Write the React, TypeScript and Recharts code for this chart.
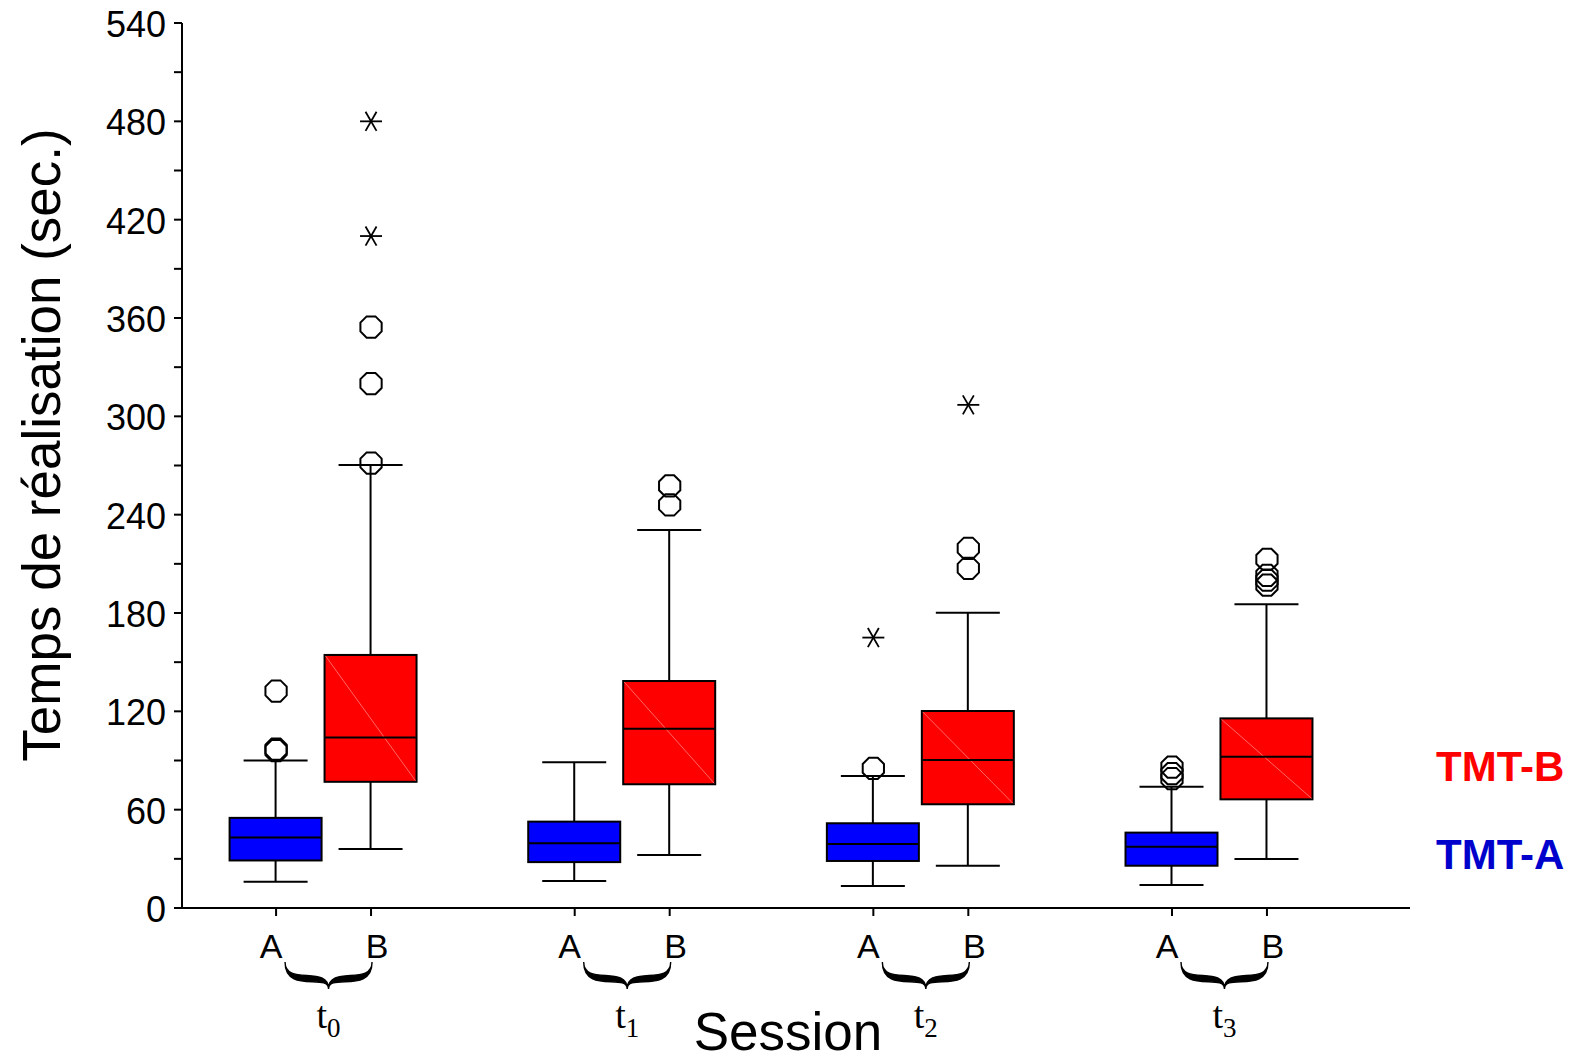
import React from "react";
import { ComposedChart, Bar, Scatter, XAxis, YAxis } from "recharts";

const SESSIONS = ["0", "1", "2", "3"];

// [lower whisker, Q1, median, Q3, upper whisker] for each session
const TMT_A = [
  [16, 29, 43, 55, 90],
  [16.5, 28, 39.5, 52.7, 89],
  [13.5, 28.7, 39, 51.7, 80.5],
  [14, 25.8, 37.4, 46, 74],
];
const TMT_B = [
  [36, 77, 104, 154.4, 270.3],
  [32.3, 75.5, 109.4, 138.5, 230.6],
  [25.8, 63.3, 90.3, 120.2, 180.2],
  [29.9, 66.3, 92.3, 115.7, 185.4],
];

// circles = outliers, stars = extreme values
const OUTLIERS_A = [[96, 97, 132.4], [], [85.2], [79, 82, 86]];
const OUTLIERS_B = [[271.5, 320, 354.5], [245.9, 257.6], [207.3, 219.5], [197, 200, 203, 212.7]];
const EXTREMES_A = [[], [], [165], []];
const EXTREMES_B = [[410, 480], [], [307], []];

const Y_TICKS = [0, 30, 60, 90, 120, 150, 180, 210, 240, 270, 300, 330, 360, 390, 420, 450, 480, 510, 540];

const OFFSET = 0.159;
const FONT = "'Liberation Sans', Arial, Helvetica, sans-serif";

const boxRows = SESSIONS.flatMap((_, i) => [
  { x: i - OFFSET, test: "A", stats: TMT_A[i], range: [TMT_A[i][0], TMT_A[i][4]] },
  { x: i + OFFSET, test: "B", stats: TMT_B[i], range: [TMT_B[i][0], TMT_B[i][4]] },
]);

const toPoints = (a: number[][], b: number[][]) =>
  SESSIONS.flatMap((_, i) => [
    ...a[i].map((y) => ({ x: i - OFFSET, y })),
    ...b[i].map((y) => ({ x: i + OFFSET, y })),
  ]);

const circleRows = toPoints(OUTLIERS_A, OUTLIERS_B);
const starRows = toPoints(EXTREMES_A, EXTREMES_B);
const X_TICKS = boxRows.map((r) => r.x);
const X_DOMAIN = [-0.474, 3.638];

function BoxShape(props: any) {
  const { x, y, width, height } = props;
  const row = props.payload ?? props;
  const [lo, q1, med, q3, hi] = row.stats;
  const k = height / (hi - lo);
  const py = (v: number) => y + (hi - v) * k;
  const cx = x + width / 2;
  const cap = 32;
  const isB = row.test === "B";
  return (
    <g>
      <line x1={cx} x2={cx} y1={py(hi)} y2={py(q3)} stroke="#000" strokeWidth={2} />
      <line x1={cx} x2={cx} y1={py(q1)} y2={py(lo)} stroke="#000" strokeWidth={2} />
      <line x1={cx - cap} x2={cx + cap} y1={py(hi)} y2={py(hi)} stroke="#000" strokeWidth={2} />
      <line x1={cx - cap} x2={cx + cap} y1={py(lo)} y2={py(lo)} stroke="#000" strokeWidth={2} />
      <rect
        x={x}
        y={py(q3)}
        width={width}
        height={py(q1) - py(q3)}
        fill={isB ? "#ff0000" : "#0000ff"}
        stroke="#000"
        strokeWidth={2}
      />
      {isB && (
        <line x1={x + 1} y1={py(q3) + 1} x2={x + width - 1} y2={py(q1) - 1} stroke="#ff8080" strokeWidth={0.8} />
      )}
      <line x1={x} x2={x + width} y1={py(med)} y2={py(med)} stroke="#000" strokeWidth={2} />
    </g>
  );
}

function Octagon(props: any) {
  const { cx, cy } = props;
  const r = 11.5;
  const pts = Array.from({ length: 8 }, (_, i) => {
    const a = (Math.PI / 4) * i + Math.PI / 8;
    return `${cx + r * Math.cos(a)},${cy + r * Math.sin(a)}`;
  }).join(" ");
  return <polygon points={pts} fill="none" stroke="#000" strokeWidth={2} />;
}

function Star(props: any) {
  const { cx, cy } = props;
  const r = 11;
  return (
    <g stroke="#000" strokeWidth={1.8}>
      {[0, 60, 120].map((deg) => {
        const a = (deg * Math.PI) / 180;
        return (
          <line
            key={deg}
            x1={cx - r * Math.cos(a)}
            y1={cy - r * Math.sin(a)}
            x2={cx + r * Math.cos(a)}
            y2={cy + r * Math.sin(a)}
          />
        );
      })}
    </g>
  );
}

function YTick(props: any) {
  const { x, y, payload } = props;
  if (payload.value % 60 !== 0) return <g />;
  return (
    <text x={x} y={y} dy={14} textAnchor="end" fontSize={36} fontFamily={FONT} fill="#000">
      {payload.value}
    </text>
  );
}

function TestTick(props: any) {
  const { x, y, payload } = props;
  const idx = X_TICKS.findIndex((v) => Math.abs(v - payload.value) < 1e-6);
  const isA = idx % 2 === 0;
  return (
    <text x={x + (isA ? -5 : 6)} y={y + 42} textAnchor="middle" fontSize={34} fontFamily={FONT} fill="#000">
      {isA ? "A" : "B"}
    </text>
  );
}

function bracePath(c: number, half: number, top: number, h: number, d: number) {
  const L = c - half;
  const R = c + half;
  const left = `M${L},${top} C${L},${top + 0.9 * h} ${c},${top + 0.1 * h} ${c},${top + h} C${c},${top + 0.1 * h + d} ${L},${top + 0.9 * h + d} ${L},${top} Z`;
  const right = `M${R},${top} C${R},${top + 0.9 * h} ${c},${top + 0.1 * h} ${c},${top + h} C${c},${top + 0.1 * h + d} ${R},${top + 0.9 * h + d} ${R},${top} Z`;
  return left + " " + right;
}

function SessionTick(props: any) {
  const { x, y, payload } = props;
  const cx = x + 5;
  return (
    <g>
      <path d={bracePath(cx, 43.5, y - 6, 27, 8)} fill="#000" stroke="#000" strokeWidth={1.4} />
      <text x={cx} y={y + 60} textAnchor="middle" fontFamily="'Liberation Serif', 'Times New Roman', serif" fontSize={38} fill="#000">
        <tspan>t</tspan>
        <tspan dy={9} fontSize={27}>
          {SESSIONS[payload.value]}
        </tspan>
      </text>
    </g>
  );
}

const SessionLabel = (props: any) => {
  const vb = props.viewBox;
  return (
    <text x={vb.x + vb.width / 2 - 8} y={vb.y + 82} textAnchor="middle" fontSize={53} fontFamily={FONT} fill="#000">
      Session
    </text>
  );
};

const TimeLabel = () => (
  <text x={60} y={445} transform="rotate(-90, 60, 445)" textAnchor="middle" fontSize={53} fontFamily={FONT} fill="#000">
    Temps de réalisation (sec.)
  </text>
);

export default function App() {
  return (
    <div style={{ position: "absolute", left: 0, top: 0, width: 1577, height: 1061, background: "#fff" }}>
      <ComposedChart width={1577} height={1061} data={boxRows} margin={{ top: 23, right: 167, left: 0, bottom: 0 }}>
        <XAxis
          xAxisId="z"
          type="number"
          dataKey="x"
          domain={X_DOMAIN}
          allowDataOverflow
          ticks={[0, 1, 2, 3]}
          interval={0}
          height={93}
          tickSize={0}
          tickMargin={0}
          axisLine={false}
          tickLine={false}
          tick={<SessionTick />}
          label={<SessionLabel />}
        />
        <XAxis
          xAxisId="a"
          type="number"
          dataKey="x"
          domain={X_DOMAIN}
          allowDataOverflow
          ticks={X_TICKS}
          interval={0}
          height={60}
          tickSize={8}
          tickMargin={0}
          axisLine={{ stroke: "#000", strokeWidth: 2 }}
          tickLine={{ stroke: "#000", strokeWidth: 2 }}
          tick={<TestTick />}
        />
        <YAxis
          type="number"
          domain={[0, 540]}
          allowDataOverflow
          ticks={Y_TICKS}
          interval={0}
          width={182}
          tickSize={8}
          tickMargin={8}
          axisLine={{ stroke: "#000", strokeWidth: 2 }}
          tickLine={{ stroke: "#000", strokeWidth: 2 }}
          tick={<YTick />}
          label={<TimeLabel />}
        />
        <Bar xAxisId="a" dataKey="range" barSize={92} shape={<BoxShape />} isAnimationActive={false} />
        <Scatter xAxisId="a" data={circleRows} dataKey="y" shape={<Octagon />} isAnimationActive={false} />
        <Scatter xAxisId="a" data={starRows} dataKey="y" shape={<Star />} isAnimationActive={false} />
      </ComposedChart>
      <svg width={1577} height={1061} style={{ position: "absolute", left: 0, top: 0, pointerEvents: "none" }}>
        <text x={1436} y={781} fontSize={42} fontWeight="bold" fontFamily={FONT} fill="#ff0000">
          TMT-B
        </text>
        <text x={1436} y={869} fontSize={42} fontWeight="bold" fontFamily={FONT} fill="#0000cc">
          TMT-A
        </text>
      </svg>
    </div>
  );
}
